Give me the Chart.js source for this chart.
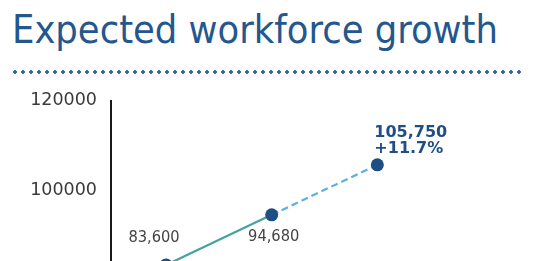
<!DOCTYPE html>
<html>
<head>
<meta charset="utf-8">
<script src="https://cdn.jsdelivr.net/npm/chart.js@4.4.1/dist/chart.umd.min.js"></script>
<style>
  html, body { margin: 0; padding: 0; background: #fff; width: 533px; height: 261px; overflow: hidden; }
  #title { position: absolute; left: 12px; top: 7px; font-family: "DejaVu Sans Condensed", "DejaVu Sans", sans-serif; font-stretch: condensed; font-size: 39.4px; line-height: 44px; color: #23578e; white-space: nowrap; margin: 0; font-weight: normal; }
  #rule { position: absolute; left: 11px; top: 70px; width: 512px; height: 4px;
          background-image: radial-gradient(circle at center, #2a63a0 1.5px, rgba(42,99,160,0) 2.1px);
          background-size: 8px 4px; background-repeat: repeat-x; }
  #wrap { position: absolute; left: 0; top: 76px; width: 533px; height: 320px; }
</style>
</head>
<body>
<h1 id="title">Expected workforce growth</h1>
<div id="rule"></div>
<div id="wrap"><canvas id="c"></canvas></div>
<script>
const categories = ["Current", "Mid-term", "Projected"];
const workforce = [83600, 94680, 105750];
const valueLabels = ["83,600", "94,680", "105,750"];
const growthLabel = "+11.7%";
const yTicks = [120000, 100000, 80000, 60000];

const labelPlugin = {
  id: 'valueLabels',
  afterDatasetsDraw(chart) {
    const ctx = chart.ctx;
    const pts = chart.getDatasetMeta(0).data;
    ctx.save();
    ctx.textBaseline = 'middle';
    ctx.font = '16.3px "DejaVu Sans Condensed", "DejaVu Sans", sans-serif';
    ctx.fillStyle = '#444444';
    ctx.textAlign = 'center';
    ctx.fillText(valueLabels[0], pts[0].x - 12, pts[0].y - 27);
    ctx.fillText(valueLabels[1], pts[1].x + 2, pts[1].y + 22);
    ctx.font = 'bold 16px "DejaVu Sans", sans-serif';
    ctx.fillStyle = '#1f4e85';
    ctx.textAlign = 'left';
    ctx.fillText(valueLabels[2], pts[2].x - 3, pts[2].y - 32);
    ctx.fillText(growthLabel, pts[2].x - 3, pts[2].y - 16);
    ctx.restore();
  }
};

new Chart(document.getElementById('c'), {
  type: 'line',
  data: {
    datasets: [{
      data: workforce.map((v, i) => ({ x: i, y: v })),
      borderWidth: 2.2,
      borderColor: '#44a39e',
      pointRadius: 6.5,
      pointHoverRadius: 6.5,
      pointBackgroundColor: '#1f4e85',
      pointBorderWidth: 0,
      tension: 0,
      segment: {
        borderColor: c => c.p0DataIndex >= 1 ? '#5ab0e6' : '#44a39e',
        borderDash: c => c.p0DataIndex >= 1 ? [7, 4] : []
      }
    }]
  },
  options: {
    responsive: true,
    maintainAspectRatio: false,
    animation: false,
    events: [],
    layout: { padding: { top: 7, right: 50, bottom: 0, left: 0 } },
    plugins: { legend: { display: false }, tooltip: { enabled: false } },
    scales: {
      x: {
        type: 'linear',
        min: -0.521,
        max: 3,
        display: true,
        grid: { display: false, drawTicks: false },
        border: { display: false },
        ticks: { display: false, callback: v => categories[v] }
      },
      y: {
        min: 60000,
        max: 120000,
        afterFit: s => { s.width = 111; },
        afterBuildTicks: s => { s.ticks = yTicks.map(v => ({ value: v })); },
        grid: { display: false, drawTicks: false, tickLength: 0 },
        border: { display: true, color: '#1a1a1a', width: 2 },
        ticks: {
          padding: 14,
          color: '#3a3a3a',
          font: { family: '"DejaVu Sans", sans-serif', size: 17.5 },
          callback: v => String(v)
        }
      }
    }
  },
  plugins: [labelPlugin]
});
</script>
</body>
</html>
